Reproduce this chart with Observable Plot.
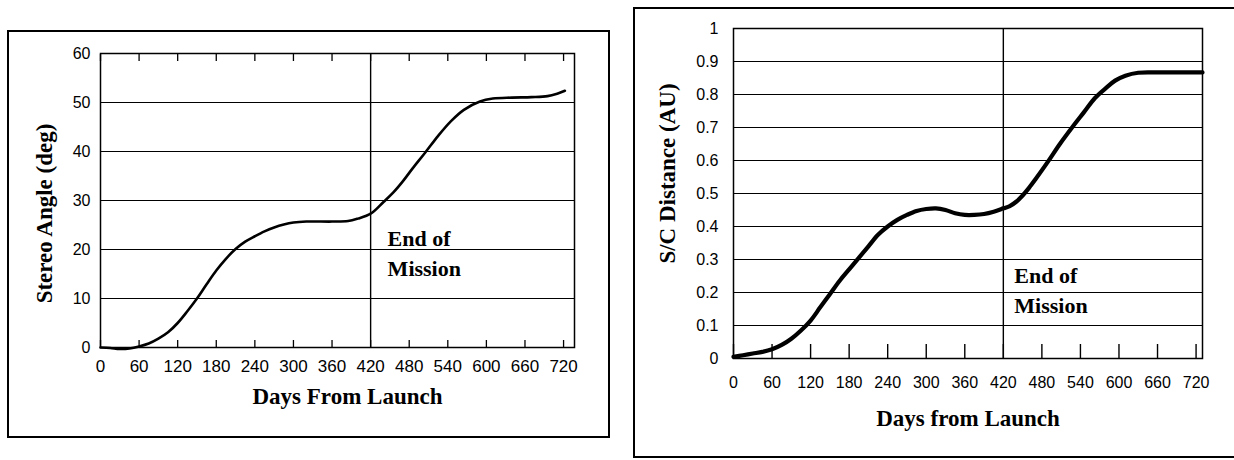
<!DOCTYPE html>
<html><head><meta charset="utf-8">
<script src="https://cdn.jsdelivr.net/npm/d3@7"></script>
<script src="https://cdn.jsdelivr.net/npm/@observablehq/plot@0.6"></script>
<style>
body{margin:0;background:#fff}
#page{position:relative;width:1234px;height:460px;overflow:hidden;background:#fff}
.box{position:absolute;box-sizing:border-box;border:2px solid #000}
.chart{position:absolute;top:0}
</style></head><body>
<div id="page">
<div class="box" style="left:7px;top:30px;width:603px;height:408px"></div>
<div class="box" style="left:633px;top:7px;width:640px;height:451px"></div>
<div class="chart" id="left" style="left:0"></div>
<div class="chart" id="right" style="left:620px"></div>
</div>
<script>
// ---- data ----
const angleDays = [0,15,30,45,60,75,90,105,120,135,150,165,180,195,210,225,240,255,270,285,300,320,360,385,400,420,440,455,470,485,505,525,545,565,590,610,640,670,695,710,722];
const angleDeg  = [0,-0.1,-0.3,-0.2,0.2,0.8,1.8,3.1,5.0,7.4,10,12.9,15.7,18.1,20.1,21.6,22.7,23.7,24.5,25.1,25.5,25.7,25.7,25.8,26.3,27.3,29.7,31.6,33.9,36.5,39.8,43.2,46.2,48.5,50.2,50.8,51.0,51.1,51.3,51.8,52.4];
const distDays = [0,15,30,45,60,75,90,105,120,135,150,165,180,195,210,225,240,255,270,285,300,315,330,345,360,375,390,405,420,430,440,450,460,470,490,508,527,545,563,580,594,610,630,660,700,730];
const distAU   = [0.005,0.01,0.015,0.02,0.028,0.041,0.06,0.085,0.115,0.155,0.195,0.235,0.27,0.305,0.34,0.375,0.40,0.42,0.435,0.447,0.453,0.455,0.45,0.44,0.435,0.435,0.438,0.445,0.455,0.462,0.475,0.494,0.517,0.543,0.598,0.65,0.70,0.745,0.79,0.82,0.842,0.857,0.866,0.867,0.867,0.867];
const xTicks = [0,60,120,180,240,300,360,420,480,540,600,660,720];
const angleTicks = [0,10,20,30,40,50,60];
const distTicks = [0,0.1,0.2,0.3,0.4,0.5,0.6,0.7,0.8,0.9,1];
const distTickLabels = ["0","0.1","0.2","0.3","0.4","0.5","0.6","0.7","0.8","0.9","1"];
const endOfMissionDay = 420;
const leftNote = [{day: 420, value: 24.9, label: "End of\nMission"}];
const rightNote = [{day: 420, value: 0.293, label: "End of\nMission"}];
const leftYTitle = "Stereo Angle (deg)";
const leftXTitle = "Days From Launch";
const rightYTitle = "S/C Distance (AU)";
const rightXTitle = "Days from Launch";

const angle = angleDays.map((d, i) => ({day: d, value: angleDeg[i]}));
const dist = distDays.map((d, i) => ({day: d, value: distAU[i]}));

const serif = "'Liberation Serif','Times New Roman',serif";
const sans = "'Liberation Sans',Arial,sans-serif";
const titleStyle = {fontSize: 23, fontWeight: "bold", fontFamily: serif, fill: "#000"};

const leftChart = Plot.plot({
  width: 620, height: 460,
  marginLeft: 100, marginRight: 46, marginTop: 53, marginBottom: 113,
  style: {background: "none", fontFamily: sans, color: "#000", overflow: "visible"},
  x: {domain: [0, 737], label: null},
  y: {domain: [0, 60], label: null},
  marks: [
    Plot.gridY(angleTicks, {stroke: "#000", strokeOpacity: 1, strokeWidth: 1.2}),
    Plot.ruleX([endOfMissionDay], {stroke: "#000", strokeWidth: 1.4}),
    Plot.axisX(xTicks, {anchor: "bottom", tickSize: 0, tickPadding: 12, fontSize: 17, label: null}),
    Plot.axisX(xTicks, {anchor: "bottom", text: null, tickSize: 7, dy: -7, strokeWidth: 1.3, label: null}),
    Plot.axisX(xTicks, {anchor: "top", text: null, tickSize: 7, dy: 7, strokeWidth: 1.3, label: null}),
    Plot.axisY(angleTicks, {anchor: "left", tickSize: 0, tickPadding: 10, fontSize: 16, label: null}),
    Plot.frame({stroke: "#000", strokeWidth: 1.5}),
    Plot.line(angle, {x: "day", y: "value", curve: "catmull-rom", stroke: "#000", strokeWidth: 2.6}),
    Plot.text(leftNote, {x: "day", y: "value", text: "label", dx: 17, textAnchor: "start", lineAnchor: "top", lineHeight: 1.33, ...titleStyle, fontSize: 22}),
    Plot.text([leftYTitle], {text: d => d, frameAnchor: "left", textAnchor: "middle", lineAnchor: "middle", rotate: -90, dx: -56, dy: 13, ...titleStyle}),
    Plot.text([leftXTitle], {text: d => d, frameAnchor: "bottom", textAnchor: "middle", lineAnchor: "middle", dx: 10, dy: 49, ...titleStyle})
  ]
});
document.getElementById("left").append(leftChart);

const rightChart = Plot.plot({
  width: 614, height: 460,
  marginLeft: 113, marginRight: 32, marginTop: 28, marginBottom: 102,
  style: {background: "none", fontFamily: sans, color: "#000", overflow: "visible"},
  x: {domain: [0, 730], label: null},
  y: {domain: [0, 1], label: null},
  marks: [
    Plot.gridY(distTicks, {stroke: "#000", strokeOpacity: 1, strokeWidth: 1.2}),
    Plot.ruleX([endOfMissionDay], {stroke: "#000", strokeWidth: 1.4}),
    Plot.axisX(xTicks, {anchor: "bottom", tickSize: 0, tickPadding: 18, fontSize: 16, label: null}),
    Plot.axisX(xTicks, {anchor: "bottom", text: null, tickSize: 14, dy: -14, strokeWidth: 1.4, label: null}),
    Plot.axisY(distTicks, {anchor: "left", tickSize: 0, tickPadding: 15, fontSize: 16, label: null,
      tickFormat: d => distTickLabels[distTicks.indexOf(d)]}),
    Plot.frame({stroke: "#000", strokeWidth: 1.5}),
    Plot.line(dist, {x: "day", y: "value", curve: "catmull-rom", stroke: "#000", strokeWidth: 4.2}),
    Plot.text(rightNote, {x: "day", y: "value", text: "label", dx: 11, textAnchor: "start", lineAnchor: "top", lineHeight: 1.35, ...titleStyle, fontSize: 22}),
    Plot.text([rightYTitle], {text: d => d, frameAnchor: "left", textAnchor: "middle", lineAnchor: "middle", rotate: -90, dx: -66, dy: -20, ...titleStyle}),
    Plot.text([rightXTitle], {text: d => d, frameAnchor: "bottom", textAnchor: "middle", lineAnchor: "middle", dx: 0, dy: 60, ...titleStyle})
  ]
});
document.getElementById("right").append(rightChart);
</script>
</body></html>
